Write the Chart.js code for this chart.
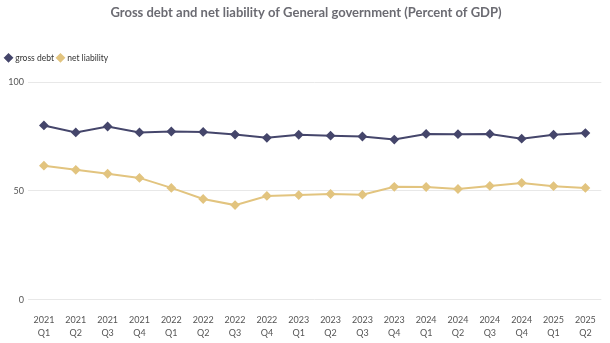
<!DOCTYPE html>
<html>
<head>
<meta charset="utf-8">
<script src="https://cdn.jsdelivr.net/npm/chart.js@4"></script>
<style>
  html, body { margin: 0; padding: 0; background: #fff; }
  #wrap { width: 610px; height: 343px; }
</style>
</head>
<body>
<div id="wrap"><canvas id="chart"></canvas></div>
<script>
const quarters = [
  ['2021', 'Q1'], ['2021', 'Q2'], ['2021', 'Q3'], ['2021', 'Q4'],
  ['2022', 'Q1'], ['2022', 'Q2'], ['2022', 'Q3'], ['2022', 'Q4'],
  ['2023', 'Q1'], ['2023', 'Q2'], ['2023', 'Q3'], ['2023', 'Q4'],
  ['2024', 'Q1'], ['2024', 'Q2'], ['2024', 'Q3'], ['2024', 'Q4'],
  ['2025', 'Q1'], ['2025', 'Q2']
];
const grossDebt = [80.1, 76.9, 79.6, 76.9, 77.3, 77.1, 75.9, 74.4, 75.8, 75.4, 75.0, 73.6, 76.2, 76.1, 76.2, 74.0, 75.8, 76.6];
const netLiability = [61.6, 59.7, 57.9, 56.0, 51.4, 46.3, 43.5, 47.7, 48.1, 48.6, 48.3, 51.9, 51.8, 50.9, 52.3, 53.7, 52.2, 51.4];
const yTicks = [0, 50, 100];

const font = "Lato, sans-serif";

new Chart(document.getElementById('chart'), {
  type: 'line',
  data: {
    labels: quarters,
    datasets: [
      {
        label: 'gross debt',
        data: grossDebt,
        borderColor: '#45466b',
        backgroundColor: '#45466b',
        borderWidth: 2,
        pointStyle: 'rectRot',
        pointRadius: 3.5,
        tension: 0
      },
      {
        label: 'net liability',
        data: netLiability,
        borderColor: '#e2c47f',
        backgroundColor: '#e2c47f',
        borderWidth: 2,
        pointStyle: 'rectRot',
        pointRadius: 3.5,
        tension: 0
      }
    ]
  },
  options: {
    responsive: true,
    maintainAspectRatio: false,
    animation: false,
    layout: { padding: { left: 2, right: 0, top: 3, bottom: -10 } },
    plugins: {
      title: {
        display: true,
        text: 'Gross debt and net liability of General government (Percent of GDP)',
        color: '#6b6b72',
        font: { family: font, size: 13, weight: 'bold' },
        padding: { top: 2, bottom: 29 }
      },
      legend: {
        align: 'start',
        labels: {
          usePointStyle: true,
          boxWidth: 5,
          boxHeight: 5,
          padding: 4,
          color: '#333',
          font: { family: font, size: 8.5 }
        }
      },
      tooltip: { enabled: false }
    },
    scales: {
      x: {
        offset: true,
        grid: { display: false, drawTicks: false },
        border: { display: false },
        ticks: {
          color: '#555',
          padding: 14,
          font: { family: font, size: 9, lineHeight: 1.4 },
          maxRotation: 0,
          autoSkip: false
        }
      },
      y: {
        min: 0,
        max: 100,
        afterBuildTicks: axis => { axis.ticks = yTicks.map(v => ({ value: v })); },
        afterFit: axis => { axis.width = 26; },
        grid: { color: '#e8e8e8', drawTicks: false },
        border: { display: false },
        ticks: {
          color: '#555',
          padding: 4,
          font: { family: font, size: 9 }
        }
      }
    }
  },
  plugins: [{
    id: 'legendGap',
    beforeInit(chart) {
      const fit = chart.legend.fit;
      chart.legend.fit = function () {
        fit.call(this);
        this.height += 10;
      };
    }
  }]
});
</script>
</body>
</html>
